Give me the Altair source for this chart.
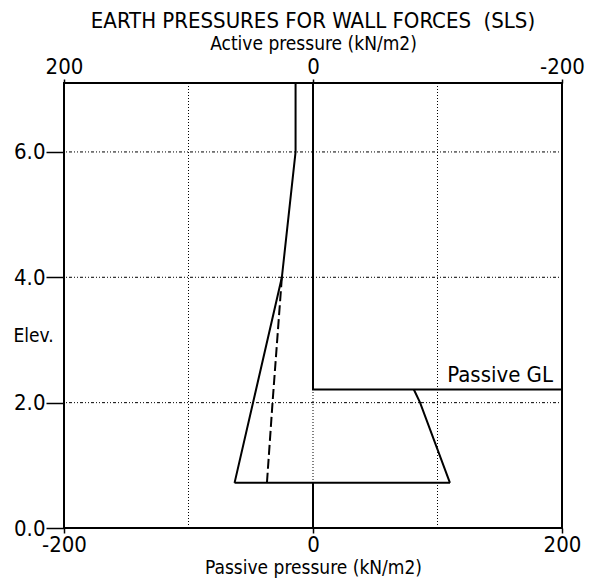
import altair as alt
import pandas as pd

FONT = "Liberation Sans Narrow, Arial Narrow, DejaVu Sans Condensed, Liberation Sans"
FS = 22
TFS = 19

# --- data ---
active_elev = [7.1, 6.0, 4.0, 0.72]
active_solid = [14, 14, 25, 63]
dashed_elev = [4.0, 2.0, 0.72]
active_dashed = [25, 32.5, 37]
passive_elev = [2.21, 2.0, 0.72]
passive_vals = [81, 86, 110]
wall_x = [0, 0, 200]
wall_elev = [7.1, 2.21, 2.21]
toe_x = [0, 0]
toe_elev = [0.72, 0.0]
grid_x = [-100, 0, 100]
grid_y = [2, 4, 6]
bottom_ticks = [-200, 0, 200]
top_ticks = [200, 0, -200]
y_ticks = [0, 2, 4, 6]
gl_label = ["Passive GL"]

df_active = pd.DataFrame({"x": active_solid, "y": active_elev, "o": range(len(active_elev))})
df_dashed = pd.DataFrame({"x": active_dashed, "y": dashed_elev, "o": range(len(dashed_elev))})
df_passive = pd.DataFrame({"x": passive_vals, "y": passive_elev, "o": range(len(passive_elev))})
df_wall = pd.DataFrame({"x": wall_x, "y": wall_elev, "o": range(len(wall_x))})
df_toe = pd.DataFrame({"x": toe_x, "y": toe_elev, "o": range(len(toe_x))})
df_base = pd.DataFrame({"x": [-active_solid[-1], passive_vals[-1]],
                        "y": [active_elev[-1], passive_elev[-1]], "o": [0, 1]})
df_gx = pd.DataFrame({"x": grid_x})
df_gy = pd.DataFrame({"y": grid_y})
df_lbl = pd.DataFrame({"x": [wall_x[-1]], "y": [wall_elev[-1]], "t": gl_label})

common_axis = dict(labelFont=FONT, titleFont=FONT, labelFontSize=FS, titleFontSize=TFS,
                   titleFontWeight="normal", labelColor="black", titleColor="black",
                   tickColor="black", domain=False, grid=False, labelFlush=False)

int_label = "datum.value < 0 ? '-' + abs(datum.value) : '' + datum.value"

axis_bottom = alt.Axis(orient="bottom", values=bottom_ticks, tickSize=5, tickWidth=1.5,
                       labelPadding=1, titlePadding=3, title="Passive pressure (kN/m2)",
                       labelExpr=int_label, **common_axis)
axis_top = alt.Axis(orient="top", values=top_ticks, tickSize=4, tickWidth=1.5,
                    labelPadding=1, titlePadding=2, title="Active pressure (kN/m2)",
                    labelExpr=int_label, **common_axis)
axis_y = alt.Axis(values=y_ticks, tickSize=18, tickWidth=1.5, labelPadding=1, format=".1f",
                  title="Elev.", titleAngle=0, titleAlign="center", titleBaseline="middle",
                  titleX=-31, titleY=252, **common_axis)

xb = alt.X("x:Q", scale=alt.Scale(domain=[-200, 200], nice=False, zero=False), axis=axis_bottom)
xt = alt.X("x:Q", scale=alt.Scale(domain=[200, -200], nice=False, zero=False), axis=axis_top)
yy = alt.Y("y:Q", scale=alt.Scale(domain=[0, 7.1], nice=False, zero=False), axis=axis_y)

grid_v = alt.Chart(df_gx).mark_rule(color="black", strokeWidth=1, strokeDash=[1, 2]).encode(x=xb)
grid_h = alt.Chart(df_gy).mark_rule(color="black", strokeWidth=1, strokeDash=[1, 2, 1, 2, 3, 2]).encode(y=yy)
wall = alt.Chart(df_wall).mark_line(color="black", strokeWidth=2).encode(x=xb, y=yy, order="o:O")
toe = alt.Chart(df_toe).mark_line(color="black", strokeWidth=2).encode(x=xb, y=yy, order="o:O")
base = alt.Chart(df_base).mark_line(color="black", strokeWidth=2).encode(x=xb, y=yy, order="o:O")
passive = alt.Chart(df_passive).mark_line(color="black", strokeWidth=2).encode(x=xb, y=yy, order="o:O")
label = alt.Chart(df_lbl).mark_text(font=FONT, fontSize=FS, color="black", align="right",
                                    baseline="bottom", dx=-9, dy=-2).encode(x=xb, y=yy, text="t:N")

bottom_group = alt.layer(grid_v, grid_h, wall, toe, base, passive, label)

act = alt.Chart(df_active).mark_line(color="black", strokeWidth=2).encode(x=xt, y=yy, order="o:O")
dashed = alt.Chart(df_dashed).mark_line(color="black", strokeWidth=2, strokeDash=[10, 4]).encode(
    x=xt, y=yy, order="o:O")
top_group = alt.layer(act, dashed)

chart = alt.layer(bottom_group, top_group).resolve_scale(x="independent").properties(
    width=498, height=445,
    background="white",
    title=alt.TitleParams("EARTH PRESSURES FOR WALL FORCES \u00a0(SLS)", font=FONT, fontSize=FS,
                          fontWeight="normal", color="black", anchor="middle", offset=1),
    autosize=alt.AutoSizeParams(type="none"),
    padding={"left": 56, "top": 75, "right": 33, "bottom": 54},
).configure_view(stroke="black", strokeWidth=2)

chart.save("out.html", embed_options={"renderer": "svg", "actions": False})
